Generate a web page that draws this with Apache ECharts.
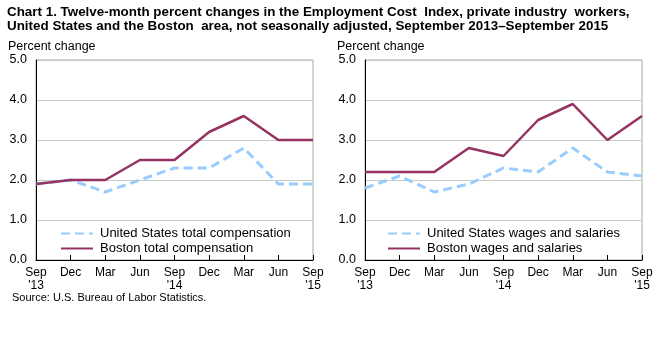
<!DOCTYPE html>
<html><head><meta charset="utf-8">
<script src="https://cdn.jsdelivr.net/npm/echarts@6/dist/echarts.min.js"></script>
<style>html,body{margin:0;padding:0;background:#fff}#c{width:661px;height:358px}</style>
</head><body><div id="c"></div>
<script>
const categories = ["Sep\n'13","Dec","Mar","Jun","Sep\n'14","Dec","Mar","Jun","Sep\n'15"];
const usTotal = [1.9, 2.0, 1.7, 2.0, 2.3, 2.3, 2.8, 1.9, 1.9];
const bostonTotal = [1.9, 2.0, 2.0, 2.5, 2.5, 3.2, 3.6, 3.0, 3.0];
const usWages = [1.8, 2.1, 1.7, 1.9, 2.3, 2.2, 2.8, 2.2, 2.1];
const bostonWages = [2.2, 2.2, 2.2, 2.8, 2.6, 3.5, 3.9, 3.0, 3.6];
const yTicks = [0, 1, 2, 3, 4, 5];

const FONT = 'Liberation Sans, Arial, sans-serif';
const US_COLOR = '#99CCFF';
const BOS_COLOR = '#953262';

function xAxis(i){
  return {type:'category', gridIndex:i, data:categories, boundaryGap:false,
    axisLine:{lineStyle:{color:'#000',width:1}},
    axisTick:{inside:true,length:5,lineStyle:{color:'#000'}},
    axisLabel:{color:'#000',fontFamily:FONT,fontSize:12,lineHeight:13,margin:6,interval:0},
    splitLine:{show:false}};
}
function yAxis(i){
  return {type:'value', gridIndex:i, min:yTicks[0], max:yTicks[yTicks.length-1], interval:1,
    axisLine:{show:true,lineStyle:{color:'#000',width:1}},
    axisTick:{show:false},
    axisLabel:{color:'#000',fontFamily:FONT,fontSize:12.5,margin:9,formatter:v=>v.toFixed(1)},
    splitLine:{show:true,lineStyle:{color:'#C4CCC4',width:1}}};
}
function usSeries(name,data,i){
  return {name, type:'line', xAxisIndex:i, yAxisIndex:i, data, symbol:'none',
    lineStyle:{color:US_COLOR,width:3,type:[9,5]}, itemStyle:{color:US_COLOR}, z:2};
}
function bosSeries(name,data,i){
  return {name, type:'line', xAxisIndex:i, yAxisIndex:i, data, symbol:'none',
    lineStyle:{color:BOS_COLOR,width:2.5}, itemStyle:{color:BOS_COLOR}, z:3};
}
function legend(left,names){
  return {left, top:222, orient:'vertical', itemWidth:32, itemHeight:12, itemGap:2,
    itemStyle:{opacity:0},
    data:names.map(n=>({name:n})),
    textStyle:{color:'#000',fontFamily:FONT,fontSize:13,padding:[0,0,0,2]}, selectedMode:false};
}

const chart = echarts.init(document.getElementById('c'));
chart.setOption({
  animation:false,
  title:[
    {text:'Chart 1. Twelve-month percent changes in the Employment Cost  Index, private industry  workers,\nUnited States and the Boston  area, not seasonally adjusted, September 2013\u2013September 2015',
     left:7, top:5, padding:0, textStyle:{fontFamily:FONT,fontWeight:'bold',fontSize:13.4,lineHeight:14,color:'#000'}},
    {text:'Percent change', left:8, top:40, padding:0, textStyle:{fontFamily:FONT,fontWeight:'normal',fontSize:12.5,color:'#000'}},
    {text:'Percent change', left:337, top:40, padding:0, textStyle:{fontFamily:FONT,fontWeight:'normal',fontSize:12.5,color:'#000'}},
    {text:'Source: U.S. Bureau of Labor Statistics.', left:12, top:292, padding:0, textStyle:{fontFamily:FONT,fontWeight:'normal',fontSize:11,color:'#000'}}
  ],
  grid:[
    {left:36, right:348, top:60, bottom:98, show:true, borderColor:'#9DAD9D', borderWidth:1},
    {left:365, right:19, top:60, bottom:98, show:true, borderColor:'#9DAD9D', borderWidth:1}
  ],
  xAxis:[xAxis(0), xAxis(1)],
  yAxis:[yAxis(0), yAxis(1)],
  legend:[
    legend(55,['United States total compensation','Boston total compensation']),
    legend(382,['United States wages and salaries','Boston wages and salaries'])
  ],
  series:[
    usSeries('United States total compensation',usTotal,0),
    bosSeries('Boston total compensation',bostonTotal,0),
    usSeries('United States wages and salaries',usWages,1),
    bosSeries('Boston wages and salaries',bostonWages,1)
  ]
});
</script></body></html>
